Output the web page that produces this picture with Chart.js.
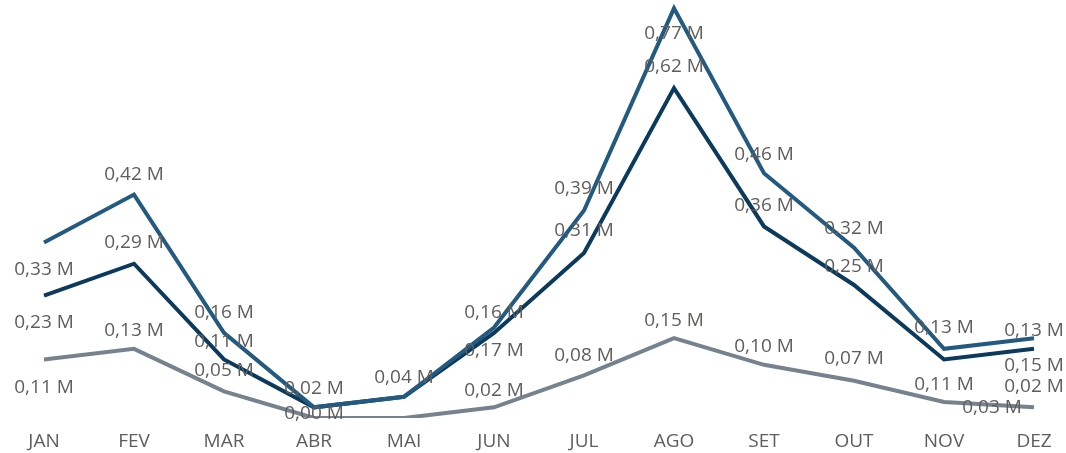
<!DOCTYPE html>
<html>
<head>
<meta charset="utf-8">
<script src="https://cdn.jsdelivr.net/npm/chart.js@4.4.0/dist/chart.umd.min.js"></script>
<style>
  html, body { margin: 0; padding: 0; background: #ffffff; }
  #wrap { width: 1066px; height: 453px; position: relative; }
</style>
</head>
<body>
<div id="wrap"><canvas id="lineChart"></canvas></div>
<script>
// Month categories
const months = ['JAN', 'FEV', 'MAR', 'ABR', 'MAI', 'JUN', 'JUL', 'AGO', 'SET', 'OUT', 'NOV', 'DEZ'];

// Series values (millions)
const totalValues  = [0.33, 0.42, 0.16, 0.02, 0.04, 0.17, 0.39, 0.77, 0.46, 0.32, 0.13, 0.15];
const mainValues   = [0.23, 0.29, 0.11, 0.02, 0.04, 0.16, 0.31, 0.62, 0.36, 0.25, 0.11, 0.13];
const otherValues  = [0.11, 0.13, 0.05, 0.00, 0.00, 0.02, 0.08, 0.15, 0.10, 0.07, 0.03, 0.02];

// Label placement (vertical offset in px from the point, null = hidden)
const totalLabelDy = [27, -20, -20, -19, -19, 23, -22, 25, -19, -19, -21, 27];
const mainLabelDy  = [27, -21, -18, null, null, -20, -22, -22, -21, -18, 25, -18];
const otherLabelDy = [28, -18, -21, -4, null, -17, -20, -18, -18, -22, 6, -21];
const otherLabelDx = [0, 0, 0, 0, 0, 0, 0, 0, 0, 0, 48, 0];

const textColor = '#605e5c';
const fontFamily = "'Open Sans', 'Noto Sans', sans-serif";

function fmt(v) {
    return v.toFixed(2).replace('.', ',') + ' M';
}

// Simple data label plugin (no datalabels plugin available offline)
const valueLabels = {
    id: 'valueLabels',
    afterDatasetsDraw(chart) {
        const ctx = chart.ctx;
        ctx.save();
        ctx.font = '19px ' + fontFamily;
        ctx.fillStyle = textColor;
        ctx.textAlign = 'center';
        ctx.textBaseline = 'middle';
        chart.data.datasets.forEach((ds, i) => {
            const meta = chart.getDatasetMeta(i);
            meta.data.forEach((pt, j) => {
                const dy = ds.labelDy[j];
                if (dy === null) return;
                const dx = ds.labelDx ? ds.labelDx[j] : 0;
                ctx.fillText(fmt(ds.data[j]), pt.x + dx, pt.y + dy);
            });
        });
        ctx.restore();
    }
};

const ctx = document.getElementById('lineChart');

new Chart(ctx, {
    type: 'line',
    data: {
        labels: months,
        datasets: [
            {
                label: 'Total',
                data: totalValues,
                borderColor: '#235a80',
                borderWidth: 4,
                labelDy: totalLabelDy
            },
            {
                label: 'Principal',
                data: mainValues,
                borderColor: '#0b3a5c',
                borderWidth: 4,
                labelDy: mainLabelDy
            },
            {
                label: 'Outros',
                data: otherValues,
                borderColor: '#76828e',
                borderWidth: 4,
                labelDy: otherLabelDy,
                labelDx: otherLabelDx
            }
        ]
    },
    options: {
        responsive: true,
        maintainAspectRatio: false,
        animation: false,
        layout: {
            padding: { left: 44, right: 32, top: 3, bottom: 0 }
        },
        elements: {
            point: { radius: 0, hoverRadius: 0 },
            line: { tension: 0, borderJoinStyle: 'miter', borderCapStyle: 'butt' }
        },
        plugins: {
            legend: { display: false },
            tooltip: { enabled: false }
        },
        scales: {
            x: {
                offset: false,
                grid: { display: false },
                border: { display: false },
                ticks: {
                    color: textColor,
                    padding: 4,
                    maxRotation: 0,
                    font: { family: fontFamily, size: 19 }
                },
                afterFit: function(scale) { scale.height = 35; }
            },
            y: {
                display: false,
                min: 0,
                max: 0.78
            }
        }
    },
    plugins: [valueLabels]
});
</script>
</body>
</html>
